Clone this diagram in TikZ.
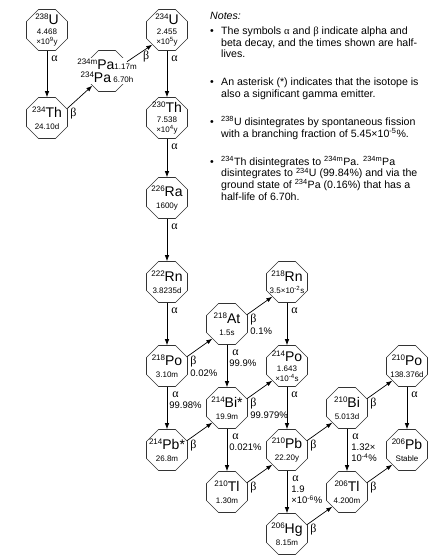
\documentclass[tikz,border=0pt]{standalone}
\usepackage{fontspec}
\setmainfont{Liberation Sans}
\newfontfamily\grk{Liberation Serif}
\usetikzlibrary{positioning}
\usetikzlibrary{shapes.geometric}
\usetikzlibrary{arrows.meta}

%mass number + element symbol
\newcommand{\nuc}[2]{\raisebox{5pt}{\fontsize{8}{8}\selectfont #1}{\fontsize{14}{14}\selectfont #2}}
\newcommand{\dalpha}{{\grk\fontsize{12}{12}\selectfont α}}
\newcommand{\dbeta}{{\grk\fontsize{12}{12}\selectfont β}}
\newcommand{\sps}[1]{\textsuperscript{#1}}
\newcommand{\bul}{\makebox[11pt][l]{\textbullet}}
\newcommand{\ind}{\hspace*{11pt}}

\begin{document}
\begin{tikzpicture}[x=1pt, y=-1pt,
  iso/.style={regular polygon, regular polygon sides=8, minimum size=44.4pt, inner sep=0pt, draw=black!80, line width=0.6pt},
  isotext/.style={align=center, inner sep=0pt, font=\fontsize{8}{9.5}\selectfont},
  decay/.style={-{Latex[length=6pt,width=4.5pt]}, line width=0.7pt},
  lab/.style={align=left, inner sep=1pt, font=\fontsize{9.5}{11}\selectfont},
  alphalab/.style={lab, at start, anchor=north west, xshift=3pt, yshift=-3.5pt},
  alphapct/.style={lab, at start, anchor=north west, xshift=1pt, yshift=-4pt},
  betalab/.style={lab, at start, anchor=north west, xshift=2pt, yshift=2pt},
  note/.style={align=left, inner sep=0pt, font=\fontsize{10.6}{11.7}\selectfont}]

\useasboundingbox (0,0) rectangle (437,556);

%uranium chain, left part
\node[iso, label={[isotext]center:{\nuc{238}{U}\\[1pt]4.468\\×10\sps{9}y}}] (U238) at (47,30) {};
\node[iso, label={[isotext]center:{\nuc{234}{Th}\\[2.5pt]24.10d}}] (Th234) at (47,118) {};
\node[iso, label={[isotext, fill=white, inner sep=1pt]center:{\nuc{234m}{Pa}{\fontsize{8}{9}\selectfont 1.17m}\\[1pt]\nuc{234}{Pa} {\fontsize{8}{9}\selectfont 6.70h}}}] (Pa234) at (107,71) {};
\node[iso, label={[isotext]center:{\nuc{234}{U}\\[1pt]2.455\\×10\sps{5}y}}] (U234) at (167,30) {};
\node[iso, label={[isotext]center:{\nuc{230}{Th}\\[1pt]7.538\\×10\sps{4}y}}] (Th230) at (167,118) {};
\node[iso, label={[isotext]center:{\nuc{226}{Ra}\\[2.5pt]1600y}}] (Ra226) at (167,198) {};
\node[iso, label={[isotext]center:{\nuc{222}{Rn}\\[2.5pt]3.8235d}}] (Rn222) at (167,282) {};
\node[iso, label={[isotext]center:{\nuc{218}{Po}\\[2.5pt]3.10m}}] (Po218) at (167,366) {};
\node[iso, label={[isotext]center:{\nuc{214}{Pb*}\\[2.5pt]26.8m}}] (Pb214) at (167,450) {};
%branches
\node[iso, label={[isotext]center:{\nuc{218}{At}\\[2.5pt]1.5s}}] (At218) at (227,324) {};
\node[iso, label={[isotext]center:{\nuc{218}{Rn}\\[2.5pt]3.5×10\sps{-2}s}}] (Rn218) at (287,282) {};
\node[iso, label={[isotext]center:{\nuc{214}{Po}\\[1pt]1.643\\×10\sps{-4}s}}] (Po214) at (287,366) {};
\node[iso, label={[isotext]center:{\nuc{214}{Bi*}\\[2.5pt]19.9m}}] (Bi214) at (227,408) {};
\node[iso, label={[isotext]center:{\nuc{210}{Pb}\\[2.5pt]22.20y}}] (Pb210) at (287,450) {};
\node[iso, label={[isotext]center:{\nuc{210}{Tl}\\[2.5pt]1.30m}}] (Tl210) at (227,492) {};
\node[iso, label={[isotext]center:{\nuc{206}{Hg}\\[2.5pt]8.15m}}] (Hg206) at (287,534) {};
\node[iso, label={[isotext]center:{\nuc{210}{Bi}\\[2.5pt]5.013d}}] (Bi210) at (347,408) {};
\node[iso, label={[isotext]center:{\nuc{206}{Tl}\\[2.5pt]4.200m}}] (Tl206) at (347,492) {};
\node[iso, label={[isotext]center:{\nuc{210}{Po}\\[2.5pt]138.376d}}] (Po210) at (407,366) {};
\node[iso, label={[isotext]center:{\nuc{206}{Pb}\\[2.5pt]Stable}}] (Pb206) at (407,450) {};

%alpha decays
\draw[decay] (U238.south) -- (Th234.north) node[alphalab] {\dalpha};
\draw[decay] (U234.south) -- (Th230.north) node[alphalab] {\dalpha};
\draw[decay] (Th230.south) -- (Ra226.north) node[alphalab] {\dalpha};
\draw[decay] (Ra226.south) -- (Rn222.north) node[alphalab] {\dalpha};
\draw[decay] (Rn222.south) -- (Po218.north) node[alphalab] {\dalpha};
\draw[decay] (Po218.south) -- (Pb214.north) node[alphapct] {\hspace*{3pt}\dalpha\\99.98\%};
\draw[decay] (At218.south) -- (Bi214.north) node[alphapct] {\hspace*{3pt}\dalpha\\99.9\%};
\draw[decay] (Rn218.south) -- (Po214.north) node[alphalab] {\dalpha};
\draw[decay] (Bi214.south) -- (Tl210.north) node[alphapct] {\hspace*{3pt}\dalpha\\0.021\%};
\draw[decay] (Po214.south) -- (Pb210.north) node[alphalab] {\dalpha};
\draw[decay] (Pb210.south) -- (Hg206.north) node[alphapct, xshift=2pt] {\hspace*{1pt}\dalpha\\1.9\\×10\sps{-6}\%};
\draw[decay] (Bi210.south) -- (Tl206.north) node[alphapct, xshift=2pt] {\hspace*{1pt}\dalpha\\1.32×\\10\sps{-4}\%};
\draw[decay] (Po210.south) -- (Pb206.north) node[alphalab] {\dalpha};

%beta decays
\draw[decay] (Th234.25) -- (Pa234.225) node[betalab] {\dbeta};
\draw[decay] (Pa234.25) -- (U234.225) node[lab, pos=0.72, below, xshift=1pt] {\dbeta};
\draw[decay] (Po218.25) -- (At218.225) node[betalab] {\dbeta\\[1.5pt]0.02\%};
\draw[decay] (At218.25) -- (Rn218.225) node[betalab] {\dbeta\\[1.5pt]0.1\%};
\draw[decay] (Pb214.25) -- (Bi214.225) node[betalab] {\dbeta};
\draw[decay] (Bi214.25) -- (Po214.225) node[betalab] {\dbeta\\[1.5pt]99.979\%};
\draw[decay] (Tl210.25) -- (Pb210.225) node[betalab] {\dbeta};
\draw[decay] (Pb210.25) -- (Bi210.225) node[betalab] {\dbeta};
\draw[decay] (Hg206.25) -- (Tl206.225) node[betalab] {\dbeta};
\draw[decay] (Bi210.25) -- (Po210.225) node[betalab] {\dbeta};
\draw[decay] (Tl206.25) -- (Pb206.225) node[betalab] {\dbeta};

%notes
\node[note, anchor=north west] (notes) at (210,12) {\textit{Notes:}\\[3.3pt]
\bul The symbols {\grk α} and {\grk β} indicate alpha and\\
\ind beta decay, and the times shown are half-\\
\ind lives.\\[16.3pt]
\bul An asterisk (*) indicates that the isotope is\\
\ind also a significant gamma emitter.\\[16.3pt]
\bul \sps{238}U disintegrates by spontaneous fission\\
\ind with a branching fraction of 5.45×10\sps{-5}\%.\\[16.3pt]
\bul \sps{234}Th disintegrates to \sps{234m}Pa. \sps{234m}Pa\\
\ind disintegrates to \sps{234}U (99.84\%) and via the\\
\ind ground state of \sps{234}Pa (0.16\%) that has a\\
\ind half-life of 6.70h.};

\end{tikzpicture}
\end{document}
